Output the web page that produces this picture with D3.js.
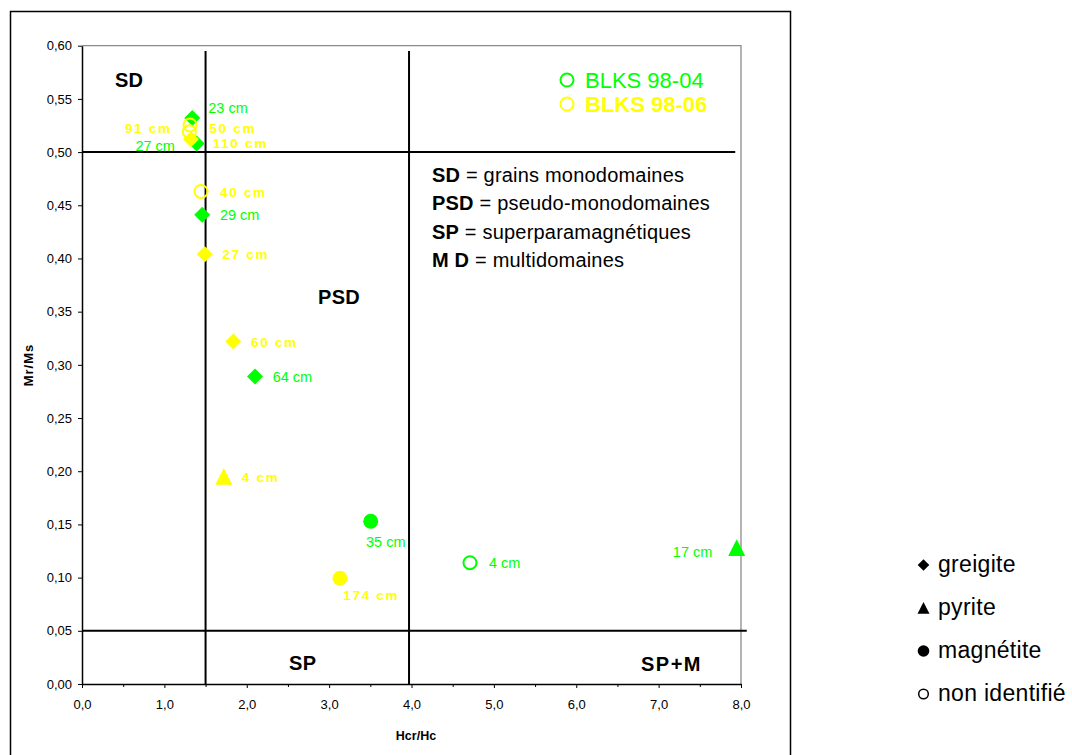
<!DOCTYPE html>
<html>
<head>
<meta charset="utf-8">
<script src="https://cdn.jsdelivr.net/npm/d3@7/dist/d3.min.js"></script>
<style>
  html, body { margin: 0; padding: 0; background: #fff; }
  svg { display: block; font-family: "Liberation Sans", Arial, sans-serif; }
</style>
</head>
<body>
<svg id="chart" width="1072" height="755"></svg>
<script>
// ---------------- DATA ----------------
const xTickValues = [0, 1, 2, 3, 4, 5, 6, 7, 8];
const xMinorTickValues = [0.5, 1.5, 2.5, 3.5, 4.5, 5.5, 6.5, 7.5];
const yTickValues = [0, 0.05, 0.10, 0.15, 0.20, 0.25, 0.30, 0.35, 0.40, 0.45, 0.50, 0.55, 0.60];

const seriesNames = ["BLKS 98-04", "BLKS 98-06"];

// BLKS 98-04 (green)
const hcrHc_9804   = [1.339, 1.392, 1.460, 2.100, 3.505, 4.710, 7.948];
const mrMs_9804    = [0.532, 0.508, 0.441, 0.289, 0.153, 0.114, 0.128];
const mineral_9804 = ["greigite", "greigite", "greigite", "greigite", "magnétite", "non identifié", "pyrite"];
const depth_9804   = ["23 cm", "27 cm", "29 cm", "64 cm", "35 cm", "4 cm", "17 cm"];

// BLKS 98-06 (yellow)
const hcrHc_9806   = [1.311, 1.303, 1.323, 1.445, 1.490, 1.837, 1.721, 3.132];
const mrMs_9806    = [0.5255, 0.5192, 0.512, 0.463, 0.404, 0.322, 0.195, 0.0994];
const mineral_9806 = ["non identifié", "non identifié", "greigite", "non identifié", "greigite", "greigite", "pyrite", "magnétite"];
const depth_9806   = ["91 cm", "50 cm", "110 cm", "40 cm", "27 cm", "60 cm", "4 cm", "174 cm"];

// Domain boundary lines (Hcr/Hc, Mr/Ms)
const boundaryLines = [
  [[1.5, 0.595], [1.5, 0]],
  [[3.97, 0.595], [3.97, 0]],
  [[0, 0.5], [7.93, 0.5]],
  [[0, 0.05], [8.07, 0.05]]
];

const regionNames = ["SD", "PSD", "SP", "SP+M"];
const definitionTerms = ["SD", "PSD", "SP", "M D"];
const definitionTexts = [" = grains monodomaines", " = pseudo-monodomaines", " = superparamagnétiques", " = multidomaines"];
const mineralLegend = ["greigite", "pyrite", "magnétite", "non identifié"];

// ---------------- LAYOUT (not data) ----------------
const GREEN = "#00ff00", YELLOW = "#ffff00";
// label offsets in px from the marker centre: [dx, dy(centre), anchor]
const labelLayout_9804 = [[16, -9.7, "start"], [-21.7, 2.2, "end"], [17.7, 0, "start"], [17.7, 0, "start"],
                          [-4.7, 20.6, "start"], [19, 0, "start"], [-24.4, 4.4, "end"]];
const labelLayout_9806 = [[-18.3, 3.5, "end"], [20, -3.7, "start"], [21.7, 4, "start"], [19, 0.6, "start"],
                          [17.6, 0, "start"], [17.7, 0.6, "start"], [18, 0.4, "start"], [3.3, 16.7, "start"]];
// region label anchor positions, in data units
const regionPos = [[0.40, 0.561, "start"], [2.865, 0.357, "start"], [2.513, 0.0132, "start"], [7.527, 0.0126, "end"]];

const svg = d3.select("#chart");
const fmt = d3.formatLocale({decimal: ",", thousands: ".", grouping: [3], currency: ["", "€"]});
const fx = fmt.format(".1f"), fy = fmt.format(".2f");

// Outer chart frame
svg.append("rect").attr("x", 10.5).attr("y", 11.5).attr("width", 780).attr("height", 760)
  .attr("fill", "#fff").attr("stroke", "#000").attr("stroke-width", 1.5);

const x = d3.scaleLinear().domain([0, 8]).range([82, 741]);
const y = d3.scaleLinear().domain([0, 0.6]).range([684, 45.7]);

// plot-area border (gray top/right)
svg.append("path")
  .attr("d", `M${x(0)},${y(0.6)}H${x(8)}V${y(0)}`)
  .attr("fill", "none").attr("stroke", "#8c8c8c").attr("stroke-width", 1.3);

// X axis
const xAxis = svg.append("g").attr("transform", `translate(0,${y(0)})`)
  .call(d3.axisBottom(x).tickValues(xTickValues.concat(xMinorTickValues)).tickSizeInner(4).tickSizeOuter(0).tickPadding(12)
        .tickFormat(d => xTickValues.includes(d) ? fx(d) : ""));
xAxis.select(".domain").attr("stroke", "#000").attr("stroke-width", 1.5);
xAxis.selectAll(".tick line").attr("stroke", "#000").attr("stroke-width", 1)
  .attr("y2", d => xTickValues.includes(d) ? 4 : 3);
xAxis.selectAll(".tick text").attr("font-size", 13).attr("fill", "#000").attr("font-family", "Liberation Sans, Arial, sans-serif");

// Y axis
const yAxis = svg.append("g").attr("transform", `translate(${x(0)},0)`)
  .call(d3.axisLeft(y).tickValues(yTickValues).tickSizeInner(4).tickSizeOuter(0).tickPadding(6).tickFormat(fy));
yAxis.select(".domain").attr("stroke", "#000").attr("stroke-width", 1.5);
yAxis.selectAll(".tick line").attr("stroke", "#000").attr("stroke-width", 1);
yAxis.selectAll(".tick text").attr("font-size", 13).attr("fill", "#000").attr("font-family", "Liberation Sans, Arial, sans-serif");

// Axis titles
svg.append("text").attr("x", 416).attr("y", 740).attr("text-anchor", "middle")
  .attr("font-size", 12.5).attr("font-weight", "bold").text("Hcr/Hc");
svg.append("text").attr("transform", "translate(33,365) rotate(-90)").attr("text-anchor", "middle")
  .attr("font-size", 13).attr("font-weight", "bold").attr("letter-spacing", 1).text("Mr/Ms");

// Boundary lines
const line = d3.line().x(d => x(d[0])).y(d => y(d[1]));
svg.append("g").selectAll("path").data(boundaryLines).join("path")
  .attr("d", line).attr("fill", "none").attr("stroke", "#000").attr("stroke-width", 2);

// Region labels
svg.append("g").selectAll("text").data(regionNames).join("text")
  .attr("x", (d, i) => x(regionPos[i][0])).attr("y", (d, i) => y(regionPos[i][1]))
  .attr("text-anchor", (d, i) => regionPos[i][2])
  .attr("font-size", 20).attr("font-weight", "bold")
  .attr("letter-spacing", (d, i) => i === 3 ? 1.5 : 0.3)
  .text(d => d);

// Markers
function markerPath(type, s) {
  if (type === "greigite") return `M0,${-s}L${s},0L0,${s}L${-s},0Z`;
  if (type === "pyrite") return `M0,${-s}L${s},${s * 0.95}L${-s},${s * 0.95}Z`;
  return null;
}
function drawMarker(g, type, cx, cy, color, big) {
  if (type === "greigite" || type === "pyrite") {
    const s = type === "greigite" ? (big ? 8 : 5.8) : (big ? 8.5 : 6);
    g.append("path").attr("d", markerPath(type, s)).attr("transform", `translate(${cx},${cy})`).attr("fill", color);
  } else if (type === "magnétite") {
    g.append("circle").attr("cx", cx).attr("cy", cy).attr("r", big ? 7.5 : 5.8).attr("fill", color);
  } else {
    g.append("circle").attr("cx", cx).attr("cy", cy).attr("r", big ? 6.5 : 4.8)
      .attr("fill", "none").attr("stroke", color).attr("stroke-width", big ? 2 : 1.5);
  }
}

function drawSeries(xs, ys, minerals, depths, layout, color, bold) {
  const g = svg.append("g");
  xs.forEach((v, i) => drawMarker(g, minerals[i], x(v), y(ys[i]), color, true));
  const lg = svg.append("g");
  xs.forEach((v, i) => {
    const L = layout[i];
    lg.append("text")
      .attr("x", x(v) + L[0]).attr("y", y(ys[i]) + L[1] + 5)
      .attr("text-anchor", L[2])
      .attr("fill", color)
      .attr("font-size", bold ? 13.5 : 14.5)
      .attr("font-weight", bold ? "bold" : "normal")
      .attr("letter-spacing", bold ? 1.7 : 0)
      .text(depths[i]);
  });
}
drawSeries(hcrHc_9804, mrMs_9804, mineral_9804, depth_9804, labelLayout_9804, GREEN, false);
drawSeries(hcrHc_9806, mrMs_9806, mineral_9806, depth_9806, labelLayout_9806, YELLOW, true);

// Series legend (top right)
const seriesColors = [GREEN, YELLOW];
const sl = svg.append("g");
seriesNames.forEach((n, i) => {
  const cy = 80 + i * 24;
  sl.append("circle").attr("cx", 567).attr("cy", cy).attr("r", 6.5)
    .attr("fill", "none").attr("stroke", seriesColors[i]).attr("stroke-width", 2);
  sl.append("text").attr("x", 585).attr("y", cy + 7.5).attr("fill", seriesColors[i])
    .attr("font-size", 22).attr("font-weight", i === 1 ? "bold" : "normal").text(n);
});

// Definitions
const defs = svg.append("g");
definitionTerms.forEach((t, i) => {
  const tx = defs.append("text").attr("x", 432).attr("y", 181.5 + i * 28.6)
    .attr("font-size", 20).attr("letter-spacing", 0.2).attr("fill", "#000");
  tx.append("tspan").attr("font-weight", "bold").text(t);
  tx.append("tspan").text(definitionTexts[i]);
});

// Mineral legend (right)
const ml = svg.append("g");
mineralLegend.forEach((m, i) => {
  const cy = 565 + i * 43;
  drawMarker(ml, m, 923.5, cy, "#000", false);
  ml.append("text").attr("x", 938).attr("y", cy + 7).attr("font-size", 23).attr("letter-spacing", 0.3)
    .attr("fill", "#000").text(m);
});
</script>
</body>
</html>
